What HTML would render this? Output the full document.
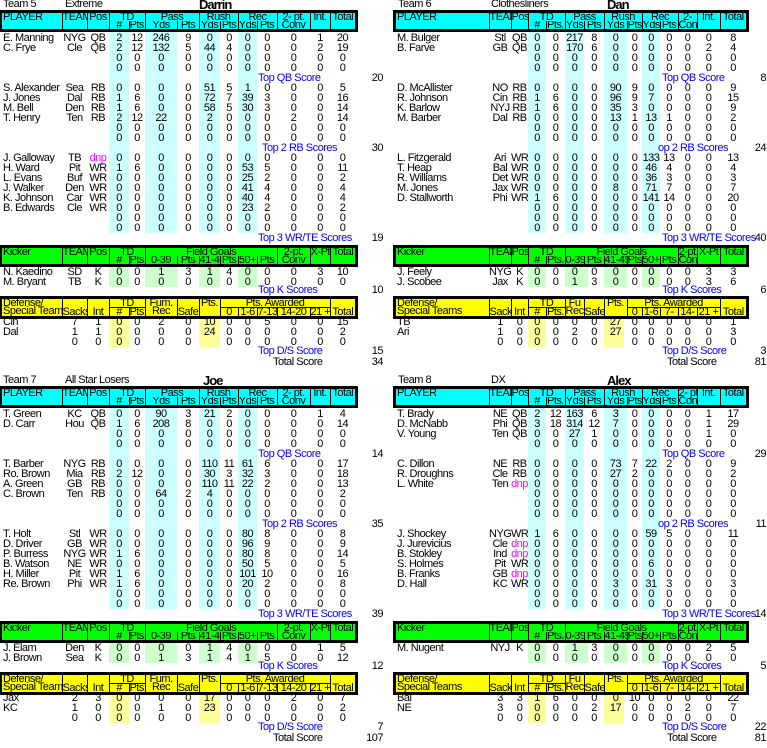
<!DOCTYPE html>
<html><head><meta charset="utf-8">
<style>
body{margin:0;background:#fff;width:767px;height:744px;overflow:hidden;position:relative;font-family:"Liberation Sans",sans-serif;letter-spacing:-0.5px}
.p{position:absolute;left:0;width:767px;height:372px}
.t{position:absolute;font-size:11px;line-height:11px;white-space:nowrap;top:-1px}
.nm{position:absolute;font-size:13px;font-weight:bold;letter-spacing:-1px;line-height:13px;top:-2px}
.bl{position:absolute;color:#00f;font-size:11px;line-height:10px;white-space:nowrap}
.v{position:absolute;font-size:11px;line-height:10px;text-align:right;width:40px}
.s{position:absolute}
.cy{background:#ccffff}.gr{background:#ccffcc}.ye{background:#ffff99}
table{border-collapse:collapse;table-layout:fixed;position:absolute}
.h{outline:3px solid #000;font-size:11px;line-height:8px}
.h td{padding:0;height:8px;border-left:1px solid #000;vertical-align:top;text-align:center;white-space:nowrap;overflow:hidden}
.h td.l{text-align:left;padding-left:1px;border-left:none}
.h td.bt{vertical-align:bottom}
.h td.u{border-bottom:1px solid #000}
.b{font-size:11px;line-height:10px}
.b td{padding:0;height:10px;text-align:center;white-space:nowrap;overflow:visible}
.b td:first-child{text-align:left;padding-left:1px}
.m{color:#f0f}
.L{width:353px;left:2px}.R{width:350px;left:396px}
</style></head><body>

<!-- ============ TEAM 5 (top-left) ============ -->
<div class="p" style="top:0">
<div class="s cy" style="left:109px;top:32px;width:20px;height:201px"></div>
<div class="s cy" style="left:145px;top:32px;width:32px;height:201px"></div>
<div class="s cy" style="left:199px;top:32px;width:21px;height:201px"></div>
<div class="s cy" style="left:238px;top:32px;width:19px;height:201px"></div>
<div class="s gr" style="left:109px;top:266px;width:20px;height:21px"></div>
<div class="s gr" style="left:145px;top:266px;width:32px;height:21px"></div>
<div class="s gr" style="left:199px;top:266px;width:21px;height:21px"></div>
<div class="s gr" style="left:238px;top:266px;width:19px;height:21px"></div>
<div class="s ye" style="left:109px;top:317px;width:20px;height:30px"></div>
<div class="s ye" style="left:199px;top:317px;width:21px;height:30px"></div>
<div class="t" style="left:3px">Team 5</div><div class="t" style="left:65px">Extreme</div>
<div class="nm" style="left:199px">Darrin</div>
<table class="h L" style="top:13px;background:#0ff"><colgroup><col style="width:60px"><col style="width:25px"><col style="width:22px"><col style="width:20px"><col style="width:16px"><col style="width:32px"><col style="width:22px"><col style="width:21px"><col style="width:18px"><col style="width:19px"><col style="width:20px"><col style="width:33px"><col style="width:20px"><col style="width:25px"></colgroup>
<tr><td rowspan="2" class="l">PLAYER</td><td rowspan="2">TEAM</td><td rowspan="2">Pos</td><td colspan="2">TD</td><td colspan="2">Pass</td><td colspan="2">Rush</td><td colspan="2">Rec</td><td rowspan="2">2- pt.<br>Conv</td><td rowspan="2">Int.</td><td rowspan="2">Total</td></tr>
<tr><td>#</td><td>Pts.</td><td>Yds</td><td>Pts</td><td>Yds</td><td>Pts</td><td>Yds</td><td>Pts</td></tr></table>
<table class="h L" style="top:248px;background:#0f0"><colgroup><col style="width:60px"><col style="width:25px"><col style="width:22px"><col style="width:20px"><col style="width:16px"><col style="width:32px"><col style="width:22px"><col style="width:21px"><col style="width:18px"><col style="width:19px"><col style="width:20px"><col style="width:33px"><col style="width:20px"><col style="width:25px"></colgroup>
<tr><td rowspan="2" class="l">Kicker</td><td rowspan="2">TEAM</td><td rowspan="2">Pos</td><td colspan="2">TD</td><td colspan="6">Field Goals</td><td rowspan="2">2-pt.<br>Conv</td><td rowspan="2">X-Pt</td><td rowspan="2">Total</td></tr>
<tr><td>#</td><td>Pts.</td><td>0-39</td><td>Pts</td><td>41-49</td><td>Pts</td><td>50+</td><td>Pts</td></tr></table>
<table class="h L" style="top:299px;background:#ff0"><colgroup><col style="width:60px"><col style="width:25px"><col style="width:22px"><col style="width:20px"><col style="width:16px"><col style="width:32px"><col style="width:22px"><col style="width:21px"><col style="width:18px"><col style="width:19px"><col style="width:20px"><col style="width:33px"><col style="width:20px"><col style="width:25px"></colgroup>
<tr><td rowspan="2" class="l">Defense/<br>Special Teams</td><td rowspan="2" class="bt">Sacks</td><td rowspan="2" class="bt">Int</td><td colspan="2" class="u">TD</td><td rowspan="2">Fum.<br>Rec</td><td rowspan="2" class="bt">Safe</td><td rowspan="2">Pts.</td><td colspan="5" class="u">Pts. Awarded</td><td rowspan="2" class="bt">Total</td></tr>
<tr><td>#</td><td>Pts.</td><td>0</td><td>1-6</td><td>7-13</td><td>14-20</td><td>21 +</td></tr></table>
<table class="b L" style="top:33px"><colgroup><col style="width:60px"><col style="width:25px"><col style="width:22px"><col style="width:20px"><col style="width:16px"><col style="width:32px"><col style="width:22px"><col style="width:21px"><col style="width:18px"><col style="width:19px"><col style="width:20px"><col style="width:33px"><col style="width:20px"><col style="width:25px"></colgroup>
<tr><td>E. Manning</td><td>NYG</td><td>QB</td><td>2</td><td>12</td><td>246</td><td>9</td><td>0</td><td>0</td><td>0</td><td>0</td><td>0</td><td>1</td><td>20</td></tr>
<tr><td>C. Frye</td><td>Cle</td><td>QB</td><td>2</td><td>12</td><td>132</td><td>5</td><td>44</td><td>4</td><td>0</td><td>0</td><td>0</td><td>2</td><td>19</td></tr>
<tr><td></td><td></td><td></td><td>0</td><td>0</td><td>0</td><td>0</td><td>0</td><td>0</td><td>0</td><td>0</td><td>0</td><td>0</td><td>0</td></tr>
<tr><td></td><td></td><td></td><td>0</td><td>0</td><td>0</td><td>0</td><td>0</td><td>0</td><td>0</td><td>0</td><td>0</td><td>0</td><td>0</td></tr>
<tr><td colspan="14"></td></tr>
<tr><td>S. Alexander</td><td>Sea</td><td>RB</td><td>0</td><td>0</td><td>0</td><td>0</td><td>51</td><td>5</td><td>1</td><td>0</td><td>0</td><td>0</td><td>5</td></tr>
<tr><td>J. Jones</td><td>Dal</td><td>RB</td><td>1</td><td>6</td><td>0</td><td>0</td><td>72</td><td>7</td><td>39</td><td>3</td><td>0</td><td>0</td><td>16</td></tr>
<tr><td>M. Bell</td><td>Den</td><td>RB</td><td>1</td><td>6</td><td>0</td><td>0</td><td>58</td><td>5</td><td>30</td><td>3</td><td>0</td><td>0</td><td>14</td></tr>
<tr><td>T. Henry</td><td>Ten</td><td>RB</td><td>2</td><td>12</td><td>22</td><td>0</td><td>2</td><td>0</td><td>0</td><td>0</td><td>2</td><td>0</td><td>14</td></tr>
<tr><td></td><td></td><td></td><td>0</td><td>0</td><td>0</td><td>0</td><td>0</td><td>0</td><td>0</td><td>0</td><td>0</td><td>0</td><td>0</td></tr>
<tr><td></td><td></td><td></td><td>0</td><td>0</td><td>0</td><td>0</td><td>0</td><td>0</td><td>0</td><td>0</td><td>0</td><td>0</td><td>0</td></tr>
<tr><td colspan="14"></td></tr>
<tr><td>J. Galloway</td><td>TB</td><td class="m">dnp</td><td>0</td><td>0</td><td>0</td><td>0</td><td>0</td><td>0</td><td>0</td><td>0</td><td>0</td><td>0</td><td>0</td></tr>
<tr><td>H. Ward</td><td>Pit</td><td>WR</td><td>1</td><td>6</td><td>0</td><td>0</td><td>0</td><td>0</td><td>53</td><td>5</td><td>0</td><td>0</td><td>11</td></tr>
<tr><td>L. Evans</td><td>Buf</td><td>WR</td><td>0</td><td>0</td><td>0</td><td>0</td><td>0</td><td>0</td><td>25</td><td>2</td><td>0</td><td>0</td><td>2</td></tr>
<tr><td>J. Walker</td><td>Den</td><td>WR</td><td>0</td><td>0</td><td>0</td><td>0</td><td>0</td><td>0</td><td>41</td><td>4</td><td>0</td><td>0</td><td>4</td></tr>
<tr><td>K. Johnson</td><td>Car</td><td>WR</td><td>0</td><td>0</td><td>0</td><td>0</td><td>0</td><td>0</td><td>40</td><td>4</td><td>0</td><td>0</td><td>4</td></tr>
<tr><td>B. Edwards</td><td>Cle</td><td>WR</td><td>0</td><td>0</td><td>0</td><td>0</td><td>0</td><td>0</td><td>23</td><td>2</td><td>0</td><td>0</td><td>2</td></tr>
<tr><td></td><td></td><td></td><td>0</td><td>0</td><td>0</td><td>0</td><td>0</td><td>0</td><td>0</td><td>0</td><td>0</td><td>0</td><td>0</td></tr>
<tr><td></td><td></td><td></td><td>0</td><td>0</td><td>0</td><td>0</td><td>0</td><td>0</td><td>0</td><td>0</td><td>0</td><td>0</td><td>0</td></tr>
<tr><td colspan="14"></td></tr>
<tr style="height:24px"><td colspan="14" style="height:24px"></td></tr>
<tr><td>N. Kaedino</td><td>SD</td><td>K</td><td>0</td><td>0</td><td>1</td><td>3</td><td>1</td><td>4</td><td>0</td><td>0</td><td>0</td><td>3</td><td>10</td></tr>
<tr><td>M. Bryant</td><td>TB</td><td>K</td><td>0</td><td>0</td><td>0</td><td>0</td><td>0</td><td>0</td><td>0</td><td>0</td><td>0</td><td>0</td><td>0</td></tr>
<tr style="height:30px"><td colspan="14" style="height:30px"></td></tr>
<tr><td>Cin</td><td>7</td><td>1</td><td>0</td><td>0</td><td>2</td><td>0</td><td>10</td><td>0</td><td>0</td><td>5</td><td>0</td><td>0</td><td>15</td></tr>
<tr><td>Dal</td><td>1</td><td>1</td><td>0</td><td>0</td><td>0</td><td>0</td><td>24</td><td>0</td><td>0</td><td>0</td><td>0</td><td>0</td><td>2</td></tr>
<tr><td></td><td>0</td><td>0</td><td>0</td><td>0</td><td>0</td><td>0</td><td></td><td>0</td><td>0</td><td>0</td><td>0</td><td>0</td><td>0</td></tr>
</table>
<div class="bl" style="left:258px;top:73px">Top QB Score</div><div class="v" style="left:343px;top:73px">20</div>
<div class="bl" style="left:262px;top:143px">Top 2 RB Scores</div><div class="v" style="left:343px;top:143px">30</div>
<div class="bl" style="left:258px;top:233px">Top 3 WR/TE Scores</div><div class="v" style="left:343px;top:233px">19</div>
<div class="bl" style="left:258px;top:285px">Top K Scores</div><div class="v" style="left:343px;top:285px">10</div>
<div class="bl" style="left:258px;top:346px">Top D/S Score</div><div class="v" style="left:343px;top:346px">15</div>
<div class="bl" style="left:273px;top:357px;color:#000">Total Score</div><div class="v" style="left:343px;top:357px">34</div>
</div>

<!-- ============ TEAM 6 (top-right) ============ -->
<div class="p" style="top:0">
<div class="s cy" style="left:528px;top:32px;width:18px;height:201px"></div>
<div class="s cy" style="left:565px;top:32px;width:19px;height:201px"></div>
<div class="s cy" style="left:604px;top:32px;width:23px;height:201px"></div>
<div class="s cy" style="left:642px;top:32px;width:18px;height:201px"></div>
<div class="s gr" style="left:528px;top:266px;width:18px;height:21px"></div>
<div class="s gr" style="left:565px;top:266px;width:23px;height:21px"></div>
<div class="s gr" style="left:604px;top:266px;width:23px;height:21px"></div>
<div class="s gr" style="left:642px;top:266px;width:18px;height:21px"></div>
<div class="s ye" style="left:528px;top:317px;width:18px;height:30px"></div>
<div class="s ye" style="left:604px;top:317px;width:20px;height:30px"></div>
<div class="t" style="left:398px">Team 6</div><div class="t" style="left:491px">Clothesliners</div>
<div class="nm" style="left:607px">Dan</div>
<table class="h R" style="top:13px;background:#0ff"><colgroup><col style="width:93px"><col style="width:22px"><col style="width:17px"><col style="width:18px"><col style="width:19px"><col style="width:19px"><col style="width:20px"><col style="width:23px"><col style="width:15px"><col style="width:18px"><col style="width:18px"><col style="width:19px"><col style="width:23px"><col style="width:26px"></colgroup>
<tr><td rowspan="2" class="l">PLAYER</td><td rowspan="2">TEAM</td><td rowspan="2">Pos</td><td colspan="2">TD</td><td colspan="2">Pass</td><td colspan="2">Rush</td><td colspan="2">Rec</td><td rowspan="2">2-<br>Conv.</td><td rowspan="2">Int.</td><td rowspan="2">Total</td></tr>
<tr><td>#</td><td>Pts.</td><td>Yds</td><td>Pts</td><td>Yds</td><td>Pts</td><td>Yds</td><td>Pts</td></tr></table>
<table class="h R" style="top:248px;background:#0f0"><colgroup><col style="width:93px"><col style="width:22px"><col style="width:17px"><col style="width:18px"><col style="width:19px"><col style="width:19px"><col style="width:20px"><col style="width:23px"><col style="width:15px"><col style="width:18px"><col style="width:18px"><col style="width:19px"><col style="width:23px"><col style="width:26px"></colgroup>
<tr><td rowspan="2" class="l">Kicker</td><td rowspan="2">TEAM</td><td rowspan="2">Pos</td><td colspan="2">TD</td><td colspan="6">Field Goals</td><td rowspan="2">2-pt.<br>Conv</td><td rowspan="2">X-Pt</td><td rowspan="2">Total</td></tr>
<tr><td>#</td><td>Pts.</td><td>0-39</td><td>Pts</td><td>41-49</td><td>Pts</td><td>50+</td><td>Pts</td></tr></table>
<table class="h R" style="top:299px;background:#ff0"><colgroup><col style="width:93px"><col style="width:22px"><col style="width:17px"><col style="width:18px"><col style="width:19px"><col style="width:19px"><col style="width:20px"><col style="width:23px"><col style="width:15px"><col style="width:18px"><col style="width:18px"><col style="width:19px"><col style="width:23px"><col style="width:26px"></colgroup>
<tr><td rowspan="2" class="l">Defense/<br>Special Teams</td><td rowspan="2" class="bt">Sacks</td><td rowspan="2" class="bt">Int</td><td colspan="2" class="u">TD</td><td rowspan="2">Fu<br>Rec</td><td rowspan="2" class="bt">Safe</td><td rowspan="2">Pts.</td><td colspan="5" class="u">Pts. Awarded</td><td rowspan="2" class="bt">Total</td></tr>
<tr><td>#</td><td>Pts.</td><td>0</td><td>1-6</td><td>7-</td><td>14-</td><td>21 +</td></tr></table>
<table class="b R" style="top:33px"><colgroup><col style="width:93px"><col style="width:22px"><col style="width:17px"><col style="width:18px"><col style="width:19px"><col style="width:19px"><col style="width:20px"><col style="width:23px"><col style="width:15px"><col style="width:18px"><col style="width:18px"><col style="width:19px"><col style="width:23px"><col style="width:26px"></colgroup>
<tr><td>M. Bulger</td><td>Stl</td><td>QB</td><td>0</td><td>0</td><td>217</td><td>8</td><td>0</td><td>0</td><td>0</td><td>0</td><td>0</td><td>0</td><td>8</td></tr>
<tr><td>B. Farve</td><td>GB</td><td>QB</td><td>0</td><td>0</td><td>170</td><td>6</td><td>0</td><td>0</td><td>0</td><td>0</td><td>0</td><td>2</td><td>4</td></tr>
<tr><td></td><td></td><td></td><td>0</td><td>0</td><td>0</td><td>0</td><td>0</td><td>0</td><td>0</td><td>0</td><td>0</td><td>0</td><td>0</td></tr>
<tr><td></td><td></td><td></td><td>0</td><td>0</td><td>0</td><td>0</td><td>0</td><td>0</td><td>0</td><td>0</td><td>0</td><td>0</td><td>0</td></tr>
<tr><td colspan="14"></td></tr>
<tr><td>D. McAllister</td><td>NO</td><td>RB</td><td>0</td><td>0</td><td>0</td><td>0</td><td>90</td><td>9</td><td>0</td><td>0</td><td>0</td><td>0</td><td>9</td></tr>
<tr><td>R. Johnson</td><td>Cin</td><td>RB</td><td>1</td><td>6</td><td>0</td><td>0</td><td>96</td><td>9</td><td>7</td><td>0</td><td>0</td><td>0</td><td>15</td></tr>
<tr><td>K. Barlow</td><td>NYJ</td><td>RB</td><td>1</td><td>6</td><td>0</td><td>0</td><td>35</td><td>3</td><td>0</td><td>0</td><td>0</td><td>0</td><td>9</td></tr>
<tr><td>M. Barber</td><td>Dal</td><td>RB</td><td>0</td><td>0</td><td>0</td><td>0</td><td>13</td><td>1</td><td>13</td><td>1</td><td>0</td><td>0</td><td>2</td></tr>
<tr><td></td><td></td><td></td><td>0</td><td>0</td><td>0</td><td>0</td><td>0</td><td>0</td><td>0</td><td>0</td><td>0</td><td>0</td><td>0</td></tr>
<tr><td></td><td></td><td></td><td>0</td><td>0</td><td>0</td><td>0</td><td>0</td><td>0</td><td>0</td><td>0</td><td>0</td><td>0</td><td>0</td></tr>
<tr><td colspan="14"></td></tr>
<tr><td>L. Fitzgerald</td><td>Ari</td><td>WR</td><td>0</td><td>0</td><td>0</td><td>0</td><td>0</td><td>0</td><td>133</td><td>13</td><td>0</td><td>0</td><td>13</td></tr>
<tr><td>T. Heap</td><td>Bal</td><td>WR</td><td>0</td><td>0</td><td>0</td><td>0</td><td>0</td><td>0</td><td>46</td><td>4</td><td>0</td><td>0</td><td>4</td></tr>
<tr><td>R. Williams</td><td>Det</td><td>WR</td><td>0</td><td>0</td><td>0</td><td>0</td><td>0</td><td>0</td><td>36</td><td>3</td><td>0</td><td>0</td><td>3</td></tr>
<tr><td>M. Jones</td><td>Jax</td><td>WR</td><td>0</td><td>0</td><td>0</td><td>0</td><td>8</td><td>0</td><td>71</td><td>7</td><td>0</td><td>0</td><td>7</td></tr>
<tr><td>D. Stallworth</td><td>Phi</td><td>WR</td><td>1</td><td>6</td><td>0</td><td>0</td><td>0</td><td>0</td><td>141</td><td>14</td><td>0</td><td>0</td><td>20</td></tr>
<tr><td></td><td></td><td></td><td>0</td><td>0</td><td>0</td><td>0</td><td>0</td><td>0</td><td>0</td><td>0</td><td>0</td><td>0</td><td>0</td></tr>
<tr><td></td><td></td><td></td><td>0</td><td>0</td><td>0</td><td>0</td><td>0</td><td>0</td><td>0</td><td>0</td><td>0</td><td>0</td><td>0</td></tr>
<tr><td></td><td></td><td></td><td>0</td><td>0</td><td>0</td><td>0</td><td>0</td><td>0</td><td>0</td><td>0</td><td>0</td><td>0</td><td>0</td></tr>
<tr><td colspan="14"></td></tr>
<tr style="height:24px"><td colspan="14" style="height:24px"></td></tr>
<tr><td>J. Feely</td><td>NYG</td><td>K</td><td>0</td><td>0</td><td>0</td><td>0</td><td>0</td><td>0</td><td>0</td><td>0</td><td>0</td><td>3</td><td>3</td></tr>
<tr><td>J. Scobee</td><td>Jax</td><td>K</td><td>0</td><td>0</td><td>1</td><td>3</td><td>0</td><td>0</td><td>0</td><td>0</td><td>0</td><td>3</td><td>6</td></tr>
<tr style="height:30px"><td colspan="14" style="height:30px"></td></tr>
<tr><td>TB</td><td>1</td><td>0</td><td>0</td><td>0</td><td>0</td><td>0</td><td>27</td><td>0</td><td>0</td><td>0</td><td>0</td><td>0</td><td>1</td></tr>
<tr><td>Ari</td><td>1</td><td>0</td><td>0</td><td>0</td><td>2</td><td>0</td><td>27</td><td>0</td><td>0</td><td>0</td><td>0</td><td>0</td><td>3</td></tr>
<tr><td></td><td>0</td><td>0</td><td>0</td><td>0</td><td>0</td><td>0</td><td></td><td>0</td><td>0</td><td>0</td><td>0</td><td>0</td><td>0</td></tr>
</table>
<div class="bl" style="left:662px;top:73px">Top QB Score</div><div class="v" style="left:726px;top:73px">8</div>
<div class="bl" style="left:658px;top:143px">op 2 RB Scores</div><div class="v" style="left:726px;top:143px">24</div>
<div class="bl" style="left:662px;top:233px">Top 3 WR/TE Scores</div><div class="v" style="left:726px;top:233px">40</div>
<div class="bl" style="left:662px;top:285px">Top K Scores</div><div class="v" style="left:726px;top:285px">6</div>
<div class="bl" style="left:662px;top:346px">Top D/S Score</div><div class="v" style="left:726px;top:346px">3</div>
<div class="bl" style="left:667px;top:357px;color:#000">Total Score</div><div class="v" style="left:726px;top:357px">81</div>
</div>

<!-- ============ TEAM 7 (bottom-left) ============ -->
<div class="p" style="top:376px">
<div class="s cy" style="left:109px;top:32px;width:20px;height:201px"></div>
<div class="s cy" style="left:145px;top:32px;width:32px;height:201px"></div>
<div class="s cy" style="left:199px;top:32px;width:21px;height:201px"></div>
<div class="s cy" style="left:238px;top:32px;width:19px;height:201px"></div>
<div class="s gr" style="left:109px;top:266px;width:20px;height:21px"></div>
<div class="s gr" style="left:145px;top:266px;width:32px;height:21px"></div>
<div class="s gr" style="left:199px;top:266px;width:21px;height:21px"></div>
<div class="s gr" style="left:238px;top:266px;width:19px;height:21px"></div>
<div class="s ye" style="left:109px;top:317px;width:20px;height:30px"></div>
<div class="s ye" style="left:199px;top:317px;width:21px;height:30px"></div>
<div class="t" style="left:3px">Team 7</div><div class="t" style="left:65px">All Star Losers</div>
<div class="nm" style="left:203px">Joe</div>
<table class="h L" style="top:13px;background:#0ff"><colgroup><col style="width:60px"><col style="width:25px"><col style="width:22px"><col style="width:20px"><col style="width:16px"><col style="width:32px"><col style="width:22px"><col style="width:21px"><col style="width:18px"><col style="width:19px"><col style="width:20px"><col style="width:33px"><col style="width:20px"><col style="width:25px"></colgroup>
<tr><td rowspan="2" class="l">PLAYER</td><td rowspan="2">TEAM</td><td rowspan="2">Pos</td><td colspan="2">TD</td><td colspan="2">Pass</td><td colspan="2">Rush</td><td colspan="2">Rec</td><td rowspan="2">2- pt.<br>Conv</td><td rowspan="2">Int.</td><td rowspan="2">Total</td></tr>
<tr><td>#</td><td>Pts.</td><td>Yds</td><td>Pts</td><td>Yds</td><td>Pts</td><td>Yds</td><td>Pts</td></tr></table>
<table class="h L" style="top:248px;background:#0f0"><colgroup><col style="width:60px"><col style="width:25px"><col style="width:22px"><col style="width:20px"><col style="width:16px"><col style="width:32px"><col style="width:22px"><col style="width:21px"><col style="width:18px"><col style="width:19px"><col style="width:20px"><col style="width:33px"><col style="width:20px"><col style="width:25px"></colgroup>
<tr><td rowspan="2" class="l">Kicker</td><td rowspan="2">TEAM</td><td rowspan="2">Pos</td><td colspan="2">TD</td><td colspan="6">Field Goals</td><td rowspan="2">2-pt.<br>Conv</td><td rowspan="2">X-Pt</td><td rowspan="2">Total</td></tr>
<tr><td>#</td><td>Pts.</td><td>0-39</td><td>Pts</td><td>41-49</td><td>Pts</td><td>50+</td><td>Pts</td></tr></table>
<table class="h L" style="top:299px;background:#ff0"><colgroup><col style="width:60px"><col style="width:25px"><col style="width:22px"><col style="width:20px"><col style="width:16px"><col style="width:32px"><col style="width:22px"><col style="width:21px"><col style="width:18px"><col style="width:19px"><col style="width:20px"><col style="width:33px"><col style="width:20px"><col style="width:25px"></colgroup>
<tr><td rowspan="2" class="l">Defense/<br>Special Teams</td><td rowspan="2" class="bt">Sacks</td><td rowspan="2" class="bt">Int</td><td colspan="2" class="u">TD</td><td rowspan="2">Fum.<br>Rec</td><td rowspan="2" class="bt">Safe</td><td rowspan="2">Pts.</td><td colspan="5" class="u">Pts. Awarded</td><td rowspan="2" class="bt">Total</td></tr>
<tr><td>#</td><td>Pts.</td><td>0</td><td>1-6</td><td>7-13</td><td>14-20</td><td>21 +</td></tr></table>
<table class="b L" style="top:33px"><colgroup><col style="width:60px"><col style="width:25px"><col style="width:22px"><col style="width:20px"><col style="width:16px"><col style="width:32px"><col style="width:22px"><col style="width:21px"><col style="width:18px"><col style="width:19px"><col style="width:20px"><col style="width:33px"><col style="width:20px"><col style="width:25px"></colgroup>
<tr><td>T. Green</td><td>KC</td><td>QB</td><td>0</td><td>0</td><td>90</td><td>3</td><td>21</td><td>2</td><td>0</td><td>0</td><td>0</td><td>1</td><td>4</td></tr>
<tr><td>D. Carr</td><td>Hou</td><td>QB</td><td>1</td><td>6</td><td>208</td><td>8</td><td>0</td><td>0</td><td>0</td><td>0</td><td>0</td><td>0</td><td>14</td></tr>
<tr><td></td><td></td><td></td><td>0</td><td>0</td><td>0</td><td>0</td><td>0</td><td>0</td><td>0</td><td>0</td><td>0</td><td>0</td><td>0</td></tr>
<tr><td></td><td></td><td></td><td>0</td><td>0</td><td>0</td><td>0</td><td>0</td><td>0</td><td>0</td><td>0</td><td>0</td><td>0</td><td>0</td></tr>
<tr><td colspan="14"></td></tr>
<tr><td>T. Barber</td><td>NYG</td><td>RB</td><td>0</td><td>0</td><td>0</td><td>0</td><td>110</td><td>11</td><td>61</td><td>6</td><td>0</td><td>0</td><td>17</td></tr>
<tr><td>Ro. Brown</td><td>Mia</td><td>RB</td><td>2</td><td>12</td><td>0</td><td>0</td><td>30</td><td>3</td><td>32</td><td>3</td><td>0</td><td>0</td><td>18</td></tr>
<tr><td>A. Green</td><td>GB</td><td>RB</td><td>0</td><td>0</td><td>0</td><td>0</td><td>110</td><td>11</td><td>22</td><td>2</td><td>0</td><td>0</td><td>13</td></tr>
<tr><td>C. Brown</td><td>Ten</td><td>RB</td><td>0</td><td>0</td><td>64</td><td>2</td><td>4</td><td>0</td><td>0</td><td>0</td><td>0</td><td>0</td><td>2</td></tr>
<tr><td></td><td></td><td></td><td>0</td><td>0</td><td>0</td><td>0</td><td>0</td><td>0</td><td>0</td><td>0</td><td>0</td><td>0</td><td>0</td></tr>
<tr><td></td><td></td><td></td><td>0</td><td>0</td><td>0</td><td>0</td><td>0</td><td>0</td><td>0</td><td>0</td><td>0</td><td>0</td><td>0</td></tr>
<tr><td colspan="14"></td></tr>
<tr><td>T. Holt</td><td>Stl</td><td>WR</td><td>0</td><td>0</td><td>0</td><td>0</td><td>0</td><td>0</td><td>80</td><td>8</td><td>0</td><td>0</td><td>8</td></tr>
<tr><td>D. Driver</td><td>GB</td><td>WR</td><td>0</td><td>0</td><td>0</td><td>0</td><td>0</td><td>0</td><td>96</td><td>9</td><td>0</td><td>0</td><td>9</td></tr>
<tr><td>P. Burress</td><td>NYG</td><td>WR</td><td>1</td><td>6</td><td>0</td><td>0</td><td>0</td><td>0</td><td>80</td><td>8</td><td>0</td><td>0</td><td>14</td></tr>
<tr><td>B. Watson</td><td>NE</td><td>WR</td><td>0</td><td>0</td><td>0</td><td>0</td><td>0</td><td>0</td><td>50</td><td>5</td><td>0</td><td>0</td><td>5</td></tr>
<tr><td>H. Miller</td><td>Pit</td><td>WR</td><td>1</td><td>6</td><td>0</td><td>0</td><td>0</td><td>0</td><td>101</td><td>10</td><td>0</td><td>0</td><td>16</td></tr>
<tr><td>Re. Brown</td><td>Phi</td><td>WR</td><td>1</td><td>6</td><td>0</td><td>0</td><td>0</td><td>0</td><td>20</td><td>2</td><td>0</td><td>0</td><td>8</td></tr>
<tr><td></td><td></td><td></td><td>0</td><td>0</td><td>0</td><td>0</td><td>0</td><td>0</td><td>0</td><td>0</td><td>0</td><td>0</td><td>0</td></tr>
<tr><td></td><td></td><td></td><td>0</td><td>0</td><td>0</td><td>0</td><td>0</td><td>0</td><td>0</td><td>0</td><td>0</td><td>0</td><td>0</td></tr>
<tr><td colspan="14"></td></tr>
<tr style="height:24px"><td colspan="14" style="height:24px"></td></tr>
<tr><td>J. Elam</td><td>Den</td><td>K</td><td>0</td><td>0</td><td>0</td><td>0</td><td>1</td><td>4</td><td>0</td><td>0</td><td>0</td><td>1</td><td>5</td></tr>
<tr><td>J. Brown</td><td>Sea</td><td>K</td><td>0</td><td>0</td><td>1</td><td>3</td><td>1</td><td>4</td><td>1</td><td>5</td><td>0</td><td>0</td><td>12</td></tr>
<tr style="height:30px"><td colspan="14" style="height:30px"></td></tr>
<tr><td>Jax</td><td>2</td><td>3</td><td>0</td><td>0</td><td>0</td><td>0</td><td>17</td><td>0</td><td>0</td><td>0</td><td>2</td><td>0</td><td>7</td></tr>
<tr><td>KC</td><td>1</td><td>0</td><td>0</td><td>0</td><td>1</td><td>0</td><td>23</td><td>0</td><td>0</td><td>0</td><td>0</td><td>0</td><td>2</td></tr>
<tr><td></td><td>0</td><td>0</td><td>0</td><td>0</td><td>0</td><td>0</td><td></td><td>0</td><td>0</td><td>0</td><td>0</td><td>0</td><td>0</td></tr>
</table>
<div class="bl" style="left:258px;top:73px">Top QB Score</div><div class="v" style="left:343px;top:73px">14</div>
<div class="bl" style="left:262px;top:143px">Top 2 RB Scores</div><div class="v" style="left:343px;top:143px">35</div>
<div class="bl" style="left:258px;top:233px">Top 3 WR/TE Scores</div><div class="v" style="left:343px;top:233px">39</div>
<div class="bl" style="left:258px;top:285px">Top K Scores</div><div class="v" style="left:343px;top:285px">12</div>
<div class="bl" style="left:258px;top:346px">Top D/S Score</div><div class="v" style="left:343px;top:346px">7</div>
<div class="bl" style="left:273px;top:357px;color:#000">Total Score</div><div class="v" style="left:343px;top:357px">107</div>
</div>

<!-- ============ TEAM 8 (bottom-right) ============ -->
<div class="p" style="top:376px">
<div class="s cy" style="left:528px;top:32px;width:18px;height:201px"></div>
<div class="s cy" style="left:565px;top:32px;width:19px;height:201px"></div>
<div class="s cy" style="left:604px;top:32px;width:23px;height:201px"></div>
<div class="s cy" style="left:642px;top:32px;width:18px;height:201px"></div>
<div class="s gr" style="left:528px;top:266px;width:18px;height:21px"></div>
<div class="s gr" style="left:565px;top:266px;width:23px;height:21px"></div>
<div class="s gr" style="left:604px;top:266px;width:23px;height:21px"></div>
<div class="s gr" style="left:642px;top:266px;width:18px;height:21px"></div>
<div class="s ye" style="left:528px;top:317px;width:18px;height:30px"></div>
<div class="s ye" style="left:604px;top:317px;width:20px;height:30px"></div>
<div class="t" style="left:398px">Team 8</div><div class="t" style="left:491px">DX</div>
<div class="nm" style="left:607px">Alex</div>
<table class="h R" style="top:13px;background:#0ff"><colgroup><col style="width:93px"><col style="width:22px"><col style="width:17px"><col style="width:18px"><col style="width:19px"><col style="width:19px"><col style="width:20px"><col style="width:23px"><col style="width:15px"><col style="width:18px"><col style="width:18px"><col style="width:19px"><col style="width:23px"><col style="width:26px"></colgroup>
<tr><td rowspan="2" class="l">PLAYER</td><td rowspan="2">TEAM</td><td rowspan="2">Pos</td><td colspan="2">TD</td><td colspan="2">Pass</td><td colspan="2">Rush</td><td colspan="2">Rec</td><td rowspan="2">2- pt.<br>Conv</td><td rowspan="2">Int.</td><td rowspan="2">Total</td></tr>
<tr><td>#</td><td>Pts.</td><td>Yds</td><td>Pts</td><td>Yds</td><td>Pts</td><td>Yds</td><td>Pts</td></tr></table>
<table class="h R" style="top:248px;background:#0f0"><colgroup><col style="width:93px"><col style="width:22px"><col style="width:17px"><col style="width:18px"><col style="width:19px"><col style="width:19px"><col style="width:20px"><col style="width:23px"><col style="width:15px"><col style="width:18px"><col style="width:18px"><col style="width:19px"><col style="width:23px"><col style="width:26px"></colgroup>
<tr><td rowspan="2" class="l">Kicker</td><td rowspan="2">TEAM</td><td rowspan="2">Pos</td><td colspan="2">TD</td><td colspan="6">Field Goals</td><td rowspan="2">2-pt.<br>Conv</td><td rowspan="2">X-Pt</td><td rowspan="2">Total</td></tr>
<tr><td>#</td><td>Pts.</td><td>0-39</td><td>Pts</td><td>41-49</td><td>Pts</td><td>50+</td><td>Pts</td></tr></table>
<table class="h R" style="top:299px;background:#ff0"><colgroup><col style="width:93px"><col style="width:22px"><col style="width:17px"><col style="width:18px"><col style="width:19px"><col style="width:19px"><col style="width:20px"><col style="width:23px"><col style="width:15px"><col style="width:18px"><col style="width:18px"><col style="width:19px"><col style="width:23px"><col style="width:26px"></colgroup>
<tr><td rowspan="2" class="l">Defense/<br>Special Teams</td><td rowspan="2" class="bt">Sacks</td><td rowspan="2" class="bt">Int</td><td colspan="2" class="u">TD</td><td rowspan="2">Fu<br>Rec</td><td rowspan="2" class="bt">Safe</td><td rowspan="2">Pts.</td><td colspan="5" class="u">Pts. Awarded</td><td rowspan="2" class="bt">Total</td></tr>
<tr><td>#</td><td>Pts.</td><td>0</td><td>1-6</td><td>7-</td><td>14-</td><td>21 +</td></tr></table>
<table class="b R" style="top:33px"><colgroup><col style="width:93px"><col style="width:22px"><col style="width:17px"><col style="width:18px"><col style="width:19px"><col style="width:19px"><col style="width:20px"><col style="width:23px"><col style="width:15px"><col style="width:18px"><col style="width:18px"><col style="width:19px"><col style="width:23px"><col style="width:26px"></colgroup>
<tr><td>T. Brady</td><td>NE</td><td>QB</td><td>2</td><td>12</td><td>163</td><td>6</td><td>3</td><td>0</td><td>0</td><td>0</td><td>0</td><td>1</td><td>17</td></tr>
<tr><td>D. McNabb</td><td>Phi</td><td>QB</td><td>3</td><td>18</td><td>314</td><td>12</td><td>7</td><td>0</td><td>0</td><td>0</td><td>0</td><td>1</td><td>29</td></tr>
<tr><td>V. Young</td><td>Ten</td><td>QB</td><td>0</td><td>0</td><td>27</td><td>1</td><td>0</td><td>0</td><td>0</td><td>0</td><td>0</td><td>1</td><td>0</td></tr>
<tr><td></td><td></td><td></td><td>0</td><td>0</td><td>0</td><td>0</td><td>0</td><td>0</td><td>0</td><td>0</td><td>0</td><td>0</td><td>0</td></tr>
<tr><td colspan="14"></td></tr>
<tr><td>C. Dillon</td><td>NE</td><td>RB</td><td>0</td><td>0</td><td>0</td><td>0</td><td>73</td><td>7</td><td>22</td><td>2</td><td>0</td><td>0</td><td>9</td></tr>
<tr><td>R. Droughns</td><td>Cle</td><td>RB</td><td>0</td><td>0</td><td>0</td><td>0</td><td>27</td><td>2</td><td>0</td><td>0</td><td>0</td><td>0</td><td>2</td></tr>
<tr><td>L. White</td><td>Ten</td><td class="m">dnp</td><td>0</td><td>0</td><td>0</td><td>0</td><td>0</td><td>0</td><td>0</td><td>0</td><td>0</td><td>0</td><td>0</td></tr>
<tr><td></td><td></td><td></td><td>0</td><td>0</td><td>0</td><td>0</td><td>0</td><td>0</td><td>0</td><td>0</td><td>0</td><td>0</td><td>0</td></tr>
<tr><td></td><td></td><td></td><td>0</td><td>0</td><td>0</td><td>0</td><td>0</td><td>0</td><td>0</td><td>0</td><td>0</td><td>0</td><td>0</td></tr>
<tr><td></td><td></td><td></td><td>0</td><td>0</td><td>0</td><td>0</td><td>0</td><td>0</td><td>0</td><td>0</td><td>0</td><td>0</td><td>0</td></tr>
<tr><td colspan="14"></td></tr>
<tr><td>J. Shockey</td><td>NYG</td><td>WR</td><td>1</td><td>6</td><td>0</td><td>0</td><td>0</td><td>0</td><td>59</td><td>5</td><td>0</td><td>0</td><td>11</td></tr>
<tr><td>J. Jurevicius</td><td>Cle</td><td class="m">dnp</td><td>0</td><td>0</td><td>0</td><td>0</td><td>0</td><td>0</td><td>0</td><td>0</td><td>0</td><td>0</td><td>0</td></tr>
<tr><td>B. Stokley</td><td>Ind</td><td class="m">dnp</td><td>0</td><td>0</td><td>0</td><td>0</td><td>0</td><td>0</td><td>0</td><td>0</td><td>0</td><td>0</td><td>0</td></tr>
<tr><td>S. Holmes</td><td>Pit</td><td>WR</td><td>0</td><td>0</td><td>0</td><td>0</td><td>0</td><td>0</td><td>6</td><td>0</td><td>0</td><td>0</td><td>0</td></tr>
<tr><td>B. Franks</td><td>GB</td><td class="m">dnp</td><td>0</td><td>0</td><td>0</td><td>0</td><td>0</td><td>0</td><td>0</td><td>0</td><td>0</td><td>0</td><td>0</td></tr>
<tr><td>D. Hall</td><td>KC</td><td>WR</td><td>0</td><td>0</td><td>0</td><td>0</td><td>3</td><td>0</td><td>31</td><td>3</td><td>0</td><td>0</td><td>3</td></tr>
<tr><td></td><td></td><td></td><td>0</td><td>0</td><td>0</td><td>0</td><td>0</td><td>0</td><td>0</td><td>0</td><td>0</td><td>0</td><td>0</td></tr>
<tr><td></td><td></td><td></td><td>0</td><td>0</td><td>0</td><td>0</td><td>0</td><td>0</td><td>0</td><td>0</td><td>0</td><td>0</td><td>0</td></tr>
<tr><td colspan="14"></td></tr>
<tr style="height:24px"><td colspan="14" style="height:24px"></td></tr>
<tr><td>M. Nugent</td><td>NYJ</td><td>K</td><td>0</td><td>0</td><td>1</td><td>3</td><td>0</td><td>0</td><td>0</td><td>0</td><td>0</td><td>2</td><td>5</td></tr>
<tr><td></td><td></td><td></td><td>0</td><td>0</td><td>0</td><td>0</td><td>0</td><td>0</td><td>0</td><td>0</td><td>0</td><td>0</td><td>0</td></tr>
<tr style="height:30px"><td colspan="14" style="height:30px"></td></tr>
<tr><td>Bal</td><td>3</td><td>3</td><td>1</td><td>6</td><td>0</td><td>0</td><td>0</td><td>10</td><td>0</td><td>0</td><td>0</td><td>0</td><td>22</td></tr>
<tr><td>NE</td><td>3</td><td>0</td><td>0</td><td>0</td><td>0</td><td>2</td><td>17</td><td>0</td><td>0</td><td>0</td><td>2</td><td>0</td><td>7</td></tr>
<tr><td></td><td>0</td><td>0</td><td>0</td><td>0</td><td>0</td><td>0</td><td></td><td>0</td><td>0</td><td>0</td><td>0</td><td>0</td><td>0</td></tr>
</table>
<div class="bl" style="left:662px;top:73px">Top QB Score</div><div class="v" style="left:726px;top:73px">29</div>
<div class="bl" style="left:658px;top:143px">op 2 RB Scores</div><div class="v" style="left:726px;top:143px">11</div>
<div class="bl" style="left:662px;top:233px">Top 3 WR/TE Scores</div><div class="v" style="left:726px;top:233px">14</div>
<div class="bl" style="left:662px;top:285px">Top K Scores</div><div class="v" style="left:726px;top:285px">5</div>
<div class="bl" style="left:662px;top:346px">Top D/S Score</div><div class="v" style="left:726px;top:346px">22</div>
<div class="bl" style="left:667px;top:357px;color:#000">Total Score</div><div class="v" style="left:726px;top:357px">81</div>
</div>
</body></html>
